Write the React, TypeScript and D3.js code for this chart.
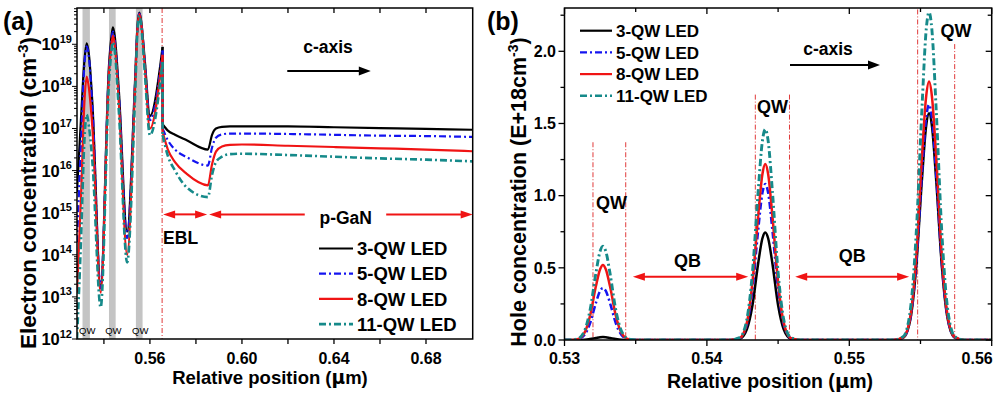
import React from 'react';
import * as d3 from 'd3';

const FONT = '"Liberation Sans", Arial, Helvetica, sans-serif';

// ---------- shared series info ----------
const seriesNames = ['3-QW LED', '5-QW LED', '8-QW LED', '11-QW LED'];
const seriesColors = ['#000000', '#1414f0', '#f01414', '#168a8a'];
const seriesDash = ['none', '7,3,2,3', 'none', '7,3,2,3'];
const seriesWidth = [2.2, 2.2, 2.2, 2.6];

// ---------- Panel (a): electron concentration (log10 of cm^-3) ----------
// Active region (QWs + QBs) up to the EBL interface
const elecPosQW = [0.5283, 0.53, 0.5315, 0.5325, 0.5335, 0.535, 0.5386, 0.5422, 0.5432, 0.5439, 0.5447, 0.5465, 0.5501, 0.5535, 0.5546, 0.5554, 0.5562, 0.5578, 0.56, 0.5655];
const elec3QWLogQW = [15.5, 17.2, 18.6, 19.02, 18.75, 17.6, 13.25, 18.5, 19.15, 19.4, 19.2, 17.9, 14.55, 18.1, 19.45, 19.75, 19.55, 18.6, 17.3, 18.94];
const elec5QWLogQW = [14.3, 16.6, 18.5, 18.95, 18.68, 17.5, 13.2, 18.4, 19.05, 19.3, 19.1, 17.8, 14.4, 18.05, 19.42, 19.73, 19.53, 18.55, 17.2, 18.85];
const elec8QWLogQW = [13.1, 15.3, 17.6, 18.23, 17.95, 17.0, 13.1, 18.3, 18.95, 19.2, 19.0, 17.6, 14.0, 17.9, 19.4, 19.72, 19.5, 18.45, 17.0, 18.75];
const elec11QWLogQW = [12.0, 14.3, 16.7, 17.33, 17.05, 16.2, 12.75, 18.1, 18.8, 19.05, 18.85, 17.4, 13.82, 17.7, 19.35, 19.68, 19.45, 18.3, 16.84, 18.58];
// EBL + p-GaN
const elecPosP = [0.5655, 0.5678, 0.5709, 0.576, 0.5852, 0.587, 0.5887, 0.5913, 0.5948, 0.6, 0.62, 0.64, 0.66, 0.68, 0.7];
const elec3QWLogP = [17.1, 16.95, 16.85, 16.72, 16.5, 16.85, 17.0, 17.04, 17.05, 17.05, 17.05, 17.03, 17.01, 16.99, 16.97];
const elec5QWLogP = [17.0, 16.72, 16.5, 16.32, 16.12, 16.55, 16.78, 16.86, 16.88, 16.88, 16.87, 16.85, 16.83, 16.82, 16.8];
const elec8QWLogP = [16.92, 16.5, 16.2, 15.92, 15.65, 16.15, 16.45, 16.57, 16.61, 16.62, 16.59, 16.56, 16.53, 16.5, 16.46];
const elec11QWLogP = [16.84, 16.35, 16.0, 15.6, 15.37, 15.9, 16.2, 16.33, 16.39, 16.4, 16.37, 16.33, 16.29, 16.26, 16.22];

const qwBandStartA = [0.5307, 0.5422, 0.5539];
const qwBandEndA = [0.5339, 0.5451, 0.5568];
const eblStartA = 0.5653;
const eblEndA = 0.5853;
const xTicksMajorA = [0.56, 0.6, 0.64, 0.68];
const xTicksAllA = [0.54, 0.56, 0.58, 0.6, 0.62, 0.64, 0.66, 0.68];
const yDecadesA = [12, 13, 14, 15, 16, 17, 18, 19];

// ---------- Panel (b): hole concentration (E+18 cm^-3) ----------
const holePos = [
  0.53,
  0.5302, 0.5309, 0.5314, 0.5318, 0.5322, 0.5325, 0.5327, 0.5329, 0.5332, 0.5336, 0.534, 0.5345, 0.5352,
  0.5384,
  0.5416, 0.5423, 0.5428, 0.5432, 0.5436, 0.5439, 0.5441, 0.5443, 0.5446, 0.545, 0.5454, 0.5459, 0.5466,
  0.55,
  0.5531, 0.5538, 0.5543, 0.5547, 0.5551, 0.5554, 0.5556, 0.5558, 0.5561, 0.5565, 0.5569, 0.5574, 0.5581,
  0.56,
];
const hole3QW = [
  0,
  0, 0, 0.002, 0.007, 0.014, 0.019, 0.02, 0.019, 0.014, 0.007, 0.002, 0, 0,
  0,
  0, 0.008, 0.072, 0.24, 0.53, 0.705, 0.745, 0.705, 0.53, 0.24, 0.072, 0.008, 0,
  0,
  0, 0.017, 0.15, 0.51, 1.11, 1.485, 1.57, 1.485, 1.11, 0.51, 0.15, 0.017, 0,
  0,
];
const hole5QW = [
  0,
  0, 0.004, 0.035, 0.117, 0.255, 0.34, 0.36, 0.34, 0.255, 0.117, 0.035, 0.004, 0,
  0,
  0, 0.012, 0.104, 0.35, 0.76, 1.02, 1.08, 1.02, 0.76, 0.35, 0.104, 0.012, 0,
  0,
  0, 0.018, 0.156, 0.53, 1.15, 1.54, 1.63, 1.54, 1.15, 0.53, 0.156, 0.018, 0,
  0,
];
const hole8QW = [
  0,
  0, 0.006, 0.05, 0.17, 0.37, 0.49, 0.52, 0.49, 0.37, 0.17, 0.05, 0.006, 0,
  0,
  0, 0.013, 0.117, 0.4, 0.86, 1.15, 1.22, 1.15, 0.86, 0.4, 0.117, 0.013, 0,
  0,
  0, 0.02, 0.17, 0.58, 1.27, 1.69, 1.79, 1.69, 1.27, 0.58, 0.17, 0.02, 0,
  0,
];
const hole11QW = [
  0,
  0, 0.007, 0.062, 0.21, 0.46, 0.615, 0.65, 0.615, 0.46, 0.21, 0.062, 0.007, 0,
  0,
  0, 0.016, 0.14, 0.47, 1.03, 1.38, 1.46, 1.38, 1.03, 0.47, 0.14, 0.016, 0,
  0,
  0, 0.025, 0.22, 0.74, 1.6, 2.15, 2.27, 2.15, 1.6, 0.74, 0.22, 0.025, 0,
  0,
];
const qwEdgesB = [0.532, 0.5343, 0.5434, 0.5458, 0.5548, 0.5574];
const qwEdgeTopsB = [1.37, 1.37, 1.7, 1.7, 2.29, 2.05];
const qwLabelPosB = [0.5333, 0.5446, 0.5575];
const qwLabelValB = [0.91, 1.57, 2.1];
const qbArrowStartB = [0.5348, 0.5462];
const qbArrowEndB = [0.5429, 0.5542];
const xTicksMajorB = [0.53, 0.54, 0.55, 0.56];
const xTicksMinorB = [0.535, 0.545, 0.555];
const yTicksMajorB = [0, 0.5, 1.0, 1.5, 2.0];
const yTicksMinorB = [0.25, 0.75, 1.25, 1.75, 2.25];

type ArrowProps = { x1: number; x2: number; y: number; color: string; headL?: boolean; headR?: boolean; hl?: number; hw?: number; sw?: number };
function Arrow({ x1, x2, y, color, headL = false, headR = true, hl = 11, hw = 4, sw = 2 }: ArrowProps) {
  const a = headL ? x1 + hl - 1 : x1;
  const b = headR ? x2 - hl + 1 : x2;
  return (
    <g>
      <line x1={a} x2={b} y1={y} y2={y} stroke={color} strokeWidth={sw} />
      {headR && <polygon points={`${x2},${y} ${x2 - hl},${y - hw} ${x2 - hl},${y + hw}`} fill={color} />}
      {headL && <polygon points={`${x1},${y} ${x1 + hl},${y - hw} ${x1 + hl},${y + hw}`} fill={color} />}
    </g>
  );
}

export default function App() {
  const xA = d3.scaleLinear().domain([0.5283, 0.7003]).range([77, 472.7]);
  const yA = d3.scaleLog().domain([1e12, Math.pow(10, 19.862)]).range([339, 8]);
  const xB = d3.scaleLinear().domain([0.53, 0.56]).range([564.5, 991.7]);
  const yB = d3.scaleLinear().domain([0, 2.3]).range([340, 8]);

  const lineA = d3.line<[number, number]>().x((d) => xA(d[0])).y((d) => yA(Math.pow(10, d[1]))).curve(d3.curveMonotoneX);
  const linLineA = d3.line<[number, number]>().x((d) => xA(d[0])).y((d) => yA(Math.pow(10, d[1])));
  const lineB = d3.line<[number, number]>().x((d) => xB(d[0])).y((d) => yB(d[1])).curve(d3.curveMonotoneX);

  const elecQW = [elec3QWLogQW, elec5QWLogQW, elec8QWLogQW, elec11QWLogQW];
  const elecP = [elec3QWLogP, elec5QWLogP, elec8QWLogP, elec11QWLogP];
  const holes = [hole3QW, hole5QW, hole8QW, hole11QW];

  const [aL, aR] = xA.range();
  const [aB, aT] = yA.range();
  const [bL, bR] = xB.range();
  const [bB, bT] = yB.range();

  const minorA: { v: number; major: boolean }[] = [];
  yDecadesA.forEach((e) => {
    for (let m = 1; m <= 9; m++) {
      const v = m * Math.pow(10, e);
      if (v <= yA.domain()[1]) minorA.push({ v, major: m === 1 });
    }
  });

  const ebl = xA(eblStartA);
  const eblEnd = xA(eblEndA);
  const arrowYA = yA(Math.pow(10, 14.96));

  const legendRowsA = [248.5, 273.7, 298.9, 324.1];
  const legendRowsB = [30.7, 52.4, 74.1, 95.8];

  return (
    <svg width={1000} height={393} style={{ position: 'absolute', left: 0, top: 0, background: '#fff' }} fontFamily={FONT}>
      <defs>
        <clipPath id="clipA"><rect x={aL} y={aT} width={aR - aL} height={aB - aT} /></clipPath>
        <clipPath id="clipB"><rect x={bL} y={bT} width={bR - bL} height={bB - bT} /></clipPath>
      </defs>
      <rect x={0} y={0} width={1000} height={393} fill="#fff" />

      {/* ================= Panel (a) ================= */}
      <g>
        {qwBandStartA.map((s, i) => (
          <rect key={i} x={xA(s)} y={aT} width={xA(qwBandEndA[i]) - xA(s)} height={aB - aT} fill="#c4c4c4" />
        ))}
        <line x1={ebl} x2={ebl} y1={aT} y2={aB} stroke="#e03a3a" strokeWidth={1} strokeDasharray="5,2,1,2" />
        <g clipPath="url(#clipA)">
          {elecQW.map((s, i) => {
            const p1 = elecPosQW.map((x, j) => [x, s[j]] as [number, number]);
            const p2 = elecPosP.map((x, j) => [x, elecP[i][j]] as [number, number]);
            const drop: [number, number][] = [p1[p1.length - 1], p2[0]];
            return (
              <g key={i} fill="none" stroke={seriesColors[i]} strokeWidth={seriesWidth[i]} strokeDasharray={seriesDash[i]} strokeLinejoin="round">
                <path d={lineA(p1) || ''} />
                <path d={linLineA(drop) || ''} />
                <path d={lineA(p2) || ''} />
              </g>
            );
          })}
        </g>
        {/* frame */}
        <rect x={aL} y={aT} width={aR - aL} height={aB - aT} fill="none" stroke="#000" strokeWidth={1.5} />
        {/* x ticks */}
        {xTicksAllA.map((t) => (
          <g key={t}>
            <line x1={xA(t)} x2={xA(t)} y1={aB} y2={aB + 5} stroke="#000" strokeWidth={1.3} />
            <line x1={xA(t)} x2={xA(t)} y1={aT} y2={aT + 5} stroke="#000" strokeWidth={1.3} />
          </g>
        ))}
        {xTicksMajorA.map((t) => (
          <text key={t} x={xA(t)} y={364} textAnchor="middle" fontSize={16} fontWeight="bold">{t.toFixed(2)}</text>
        ))}
        {/* y ticks */}
        {minorA.map((d, i) => (
          <line key={i} x1={aL} x2={aL - (d.major ? 5 : 3)} y1={yA(d.v)} y2={yA(d.v)} stroke="#000" strokeWidth={1} />
        ))}
        {yDecadesA.map((e) => (
          <text key={e} x={72} y={yA(Math.pow(10, e)) + 6} textAnchor="end" fontSize={16.5} fontWeight="bold">
            10<tspan dy={-7.5} fontSize={11}>{e}</tspan>
          </text>
        ))}
        {/* axis titles */}
        <text x={270} y={384} textAnchor="middle" fontSize={18.5} fontWeight="bold">Relative position (<tspan fontFamily="DejaVu Sans">μ</tspan>m)</text>
        <text transform="translate(36,193) rotate(-90)" textAnchor="middle" fontSize={22.5} fontWeight="bold">
          Electron concentration (cm<tspan dy={-8} fontSize={15}>-3</tspan><tspan dy={8}>)</tspan>
        </text>
        <text x={3} y={30} fontSize={25} fontWeight="bold">(a)</text>
        {/* QW labels */}
        {qwBandStartA.map((s, i) => (
          <text key={i} x={(xA(s) + xA(qwBandEndA[i])) / 2 + 1} y={334} textAnchor="middle" fontSize={9.5}>QW</text>
        ))}
        {/* c-axis */}
        <text x={xA(0.6374)} y={53} textAnchor="middle" fontSize={17.5} fontWeight="bold">c-axis</text>
        <Arrow x1={xA(0.6197)} x2={xA(0.656)} y={71} color="#000" hl={12} hw={4.5} sw={2} />
        {/* EBL / p-GaN */}
        <Arrow x1={ebl + 1} x2={eblEnd - 1} y={arrowYA} color="#f01414" headL headR hl={12} hw={4} sw={2} />
        <text x={ebl + 1} y={244} fontSize={17.5} fontWeight="bold">EBL</text>
        <Arrow x1={eblEnd + 1} x2={xA(0.6273)} y={arrowYA} color="#f01414" headL headR={false} hl={12} hw={4} sw={2} />
        <Arrow x1={xA(0.6627)} x2={aR} y={arrowYA} color="#f01414" hl={12} hw={4} sw={2} />
        <text x={xA(0.6451)} y={224} textAnchor="middle" fontSize={17.5} fontWeight="bold">p-GaN</text>
        {/* legend */}
        {seriesNames.map((n, i) => (
          <g key={n}>
            <line x1={319} x2={353} y1={legendRowsA[i]} y2={legendRowsA[i]} stroke={seriesColors[i]} strokeWidth={seriesWidth[i]} strokeDasharray={seriesDash[i]} />
            <text x={357} y={legendRowsA[i]} dy="0.36em" fontSize={18.5} fontWeight="bold">{n}</text>
          </g>
        ))}
      </g>

      {/* ================= Panel (b) ================= */}
      <g>
        {qwEdgesB.map((x, i) => (
          <line key={i} x1={xB(x)} x2={xB(x)} y1={yB(qwEdgeTopsB[i])} y2={bB} stroke="#e03a3a" strokeWidth={1} strokeDasharray="5,2,1,2" />
        ))}
        <g clipPath="url(#clipB)">
          {holes.map((s, i) => (
            <path key={i} d={lineB(holePos.map((x, j) => [x, s[j]] as [number, number])) || ''} fill="none" stroke={seriesColors[i]} strokeWidth={seriesWidth[i] + 0.3} strokeDasharray={seriesDash[i]} strokeLinejoin="round" />
          ))}
        </g>
        <rect x={bL} y={bT} width={bR - bL} height={bB - bT} fill="none" stroke="#000" strokeWidth={1.5} />
        {xTicksMajorB.map((t, i) => (
          <g key={t}>
            <line x1={xB(t)} x2={xB(t)} y1={bB} y2={bB + 6} stroke="#000" strokeWidth={1.3} />
            <line x1={xB(t)} x2={xB(t)} y1={bT} y2={bT + 6} stroke="#000" strokeWidth={1.3} />
            <text x={i === xTicksMajorB.length - 1 ? xB(t) + 1 : xB(t)} y={364} textAnchor={i === xTicksMajorB.length - 1 ? 'end' : 'middle'} fontSize={16} fontWeight="bold">{t.toFixed(2)}</text>
          </g>
        ))}
        {xTicksMinorB.map((t) => (
          <g key={t}>
            <line x1={xB(t)} x2={xB(t)} y1={bB} y2={bB + 4} stroke="#000" strokeWidth={1.3} />
            <line x1={xB(t)} x2={xB(t)} y1={bT} y2={bT + 4} stroke="#000" strokeWidth={1.3} />
          </g>
        ))}
        {yTicksMajorB.map((t) => (
          <g key={t}>
            <line x1={bL} x2={bL - 6} y1={yB(t)} y2={yB(t)} stroke="#000" strokeWidth={1.3} />
            <line x1={bR} x2={bR - 6} y1={yB(t)} y2={yB(t)} stroke="#000" strokeWidth={1.3} />
            <text x={556} y={yB(t)} dy="0.36em" textAnchor="end" fontSize={16} fontWeight="bold">{t.toFixed(1)}</text>
          </g>
        ))}
        {yTicksMinorB.map((t) => (
          <g key={t}>
            <line x1={bL} x2={bL - 4} y1={yB(t)} y2={yB(t)} stroke="#000" strokeWidth={1.3} />
            <line x1={bR} x2={bR - 4} y1={yB(t)} y2={yB(t)} stroke="#000" strokeWidth={1.3} />
          </g>
        ))}
        <text x={770} y={388} textAnchor="middle" fontSize={19.5} fontWeight="bold">Relative position (<tspan fontFamily="DejaVu Sans">μ</tspan>m)</text>
        <text transform="translate(526,192) rotate(-90)" textAnchor="middle" fontSize={21.5} fontWeight="bold">
          Hole concentration (E+18cm<tspan dy={-8} fontSize={14}>-3</tspan><tspan dy={8}>)</tspan>
        </text>
        <text x={487} y={30} fontSize={25} fontWeight="bold">(b)</text>
        {qwLabelPosB.map((x, i) => (
          <text key={i} x={xB(x)} y={yB(qwLabelValB[i])} textAnchor="middle" fontSize={18} fontWeight="bold">QW</text>
        ))}
        {qbArrowStartB.map((x, i) => (
          <g key={i}>
            <Arrow x1={xB(x)} x2={xB(qbArrowEndB[i])} y={276.7} color="#f01414" headL headR hl={12} hw={4} sw={2} />
            <text x={(xB(x) + xB(qbArrowEndB[i])) / 2 + (i === 0 ? -3 : 0)} y={i === 0 ? 266.5 : 262} textAnchor="middle" fontSize={18} fontWeight="bold">QB</text>
          </g>
        ))}
        <text x={828} y={55} textAnchor="middle" fontSize={17.5} fontWeight="bold">c-axis</text>
        <Arrow x1={790} x2={880} y={65} color="#000" hl={12} hw={4.5} sw={2} />
        {seriesNames.map((n, i) => (
          <g key={n}>
            <line x1={580} x2={612} y1={legendRowsB[i]} y2={legendRowsB[i]} stroke={seriesColors[i]} strokeWidth={seriesWidth[i]} strokeDasharray={seriesDash[i]} />
            <text x={616} y={legendRowsB[i]} dy="0.36em" fontSize={17} fontWeight="bold">{n}</text>
          </g>
        ))}
      </g>
    </svg>
  );
}
